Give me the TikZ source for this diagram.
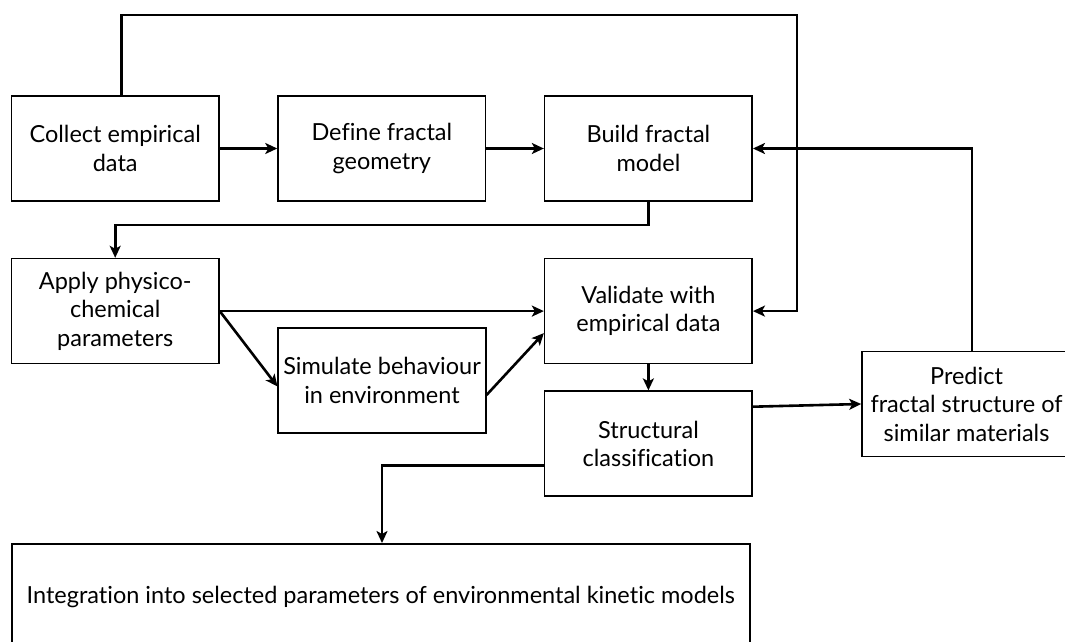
\documentclass[tikz,border=0pt]{standalone}
\usepackage{fontspec}
\setmainfont{Lato}[Ligatures=NoCommon]
\usetikzlibrary{positioning,arrows.meta}

\begin{document}
\begin{tikzpicture}[x=1pt,y=-1pt,node distance=56pt and 57.5pt,
    box/.style={rectangle,draw,line width=1.6pt,minimum width=207.5pt,minimum height=105pt,align=center,inner sep=0pt,font=\fontsize{23.5}{28.5}\selectfont},
    arrow/.style={-{Stealth[length=12pt,width=11pt,inset=3pt]},line width=2.6pt}]
    \useasboundingbox (0,0) rectangle (1065,642);

    \node[box] (collect) at (115.2,148.5) {Collect empirical\\data};
    \node[box,right=of collect] (define) {Define fractal\\geometry};
    \node[box,right=of define] (build) {Build fractal\\model};
    \node[box,below=of collect] (apply) {Apply physico-\\chemical\\parameters};
    \node[box,below=of build] (validate) {Validate with\\empirical data};
    \node[box,below=26pt of validate] (struct) {Structural\\classification};
    \node[box] (simulate) at (382,380.5) {Simulate behaviour\\in environment};
    \node[box,minimum width=209pt] (predict) at (966.5,404) {Predict\\fractal structure of\\similar materials};
    \node[box,minimum width=738pt,minimum height=107pt,anchor=north west] (integ) at (11,543) {Integration into selected parameters of environmental kinetic models};
    \coordinate (topright) at (797,15);

    \draw[arrow] (collect) -- (define);
    \draw[arrow] (define) -- (build);
    \draw[arrow] ([xshift=6pt]collect.north) |- (topright) |- (validate.east);
    \draw[arrow] (build.south) -- ++(0,23) -| (apply.north);
    \draw[arrow] ([xshift=5.5pt]predict.north) |- (build.east);
    \draw[arrow] (apply.east) -- (validate.west);
    \draw[arrow] (apply.east) -- ([yshift=-6pt]simulate.west);
    \draw[arrow] ([yshift=-14.5pt]simulate.east) -- ([yshift=-22pt]validate.west);
    \draw[arrow] (validate) -- (struct);
    \draw[arrow] ([yshift=37pt]struct.east) -- (predict.west);
    \draw[arrow] ([yshift=-21.5pt]struct.west) -| (integ.north -| simulate.center);
\end{tikzpicture}
\end{document}
